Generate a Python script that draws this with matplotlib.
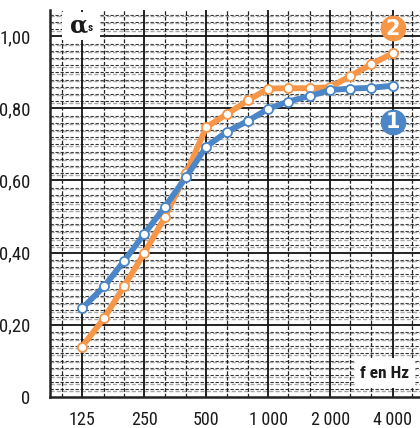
import matplotlib
matplotlib.use("Agg")
import matplotlib.pyplot as plt
from matplotlib import font_manager as fm
from matplotlib.patches import Rectangle
import numpy as np

# ---- data ----
freqs = [125, 160, 200, 250, 315, 400, 500, 630, 800, 1000, 1250, 1600, 2000, 2500, 3150, 4000]
series1 = [0.245, 0.306, 0.377, 0.451, 0.527, 0.610, 0.694, 0.735, 0.766, 0.799, 0.819, 0.835, 0.851, 0.855, 0.857, 0.863]
series2 = [0.139, 0.218, 0.307, 0.398, 0.498, 0.620, 0.748, 0.784, 0.823, 0.855, 0.856, 0.856, 0.859, 0.890, 0.922, 0.953]
octave_ticks = [125, 250, 500, 1000, 2000, 4000]
octave_labels = ["125", "250", "500", "1\u2009000", "2\u2009000", "4\u2009000"]
third_lines = [100, 160, 200, 315, 400, 630, 800, 1250, 1600, 2500, 3150, 5000]
y_ticks = [0, 0.2, 0.4, 0.6, 0.8, 1.0]
y_labels = ["0", "0,20", "0,40", "0,60", "0,80", "1,00"]

blue = "#4a86c8"
orange = "#f79646"

names = {f.name for f in fm.fontManager.ttflist}
narrow = None
for cand in ["Liberation Sans Narrow", "Roboto Condensed", "DejaVu Sans Condensed"]:
    if cand in names:
        narrow = cand
        break
fam = [narrow, "DejaVu Sans"] if narrow else ["DejaVu Sans"]

fig = plt.figure(figsize=(4.2, 4.28), dpi=100)
ax = fig.add_axes([50/420, 1 - 396.7/428, 370/420, (396.7 - 10)/428])
ax.set_xscale("log", base=2)
ax.set_xlim(87.4, 5437)
ax.set_ylim(0, 1.073)

# grid
for y in np.arange(0.02, 1.08, 0.02):
    if abs(round(y / 0.2) * 0.2 - y) < 1e-6:
        continue
    ax.axhline(y, color="#333333", lw=0.8, ls=(0, (3, 1.5)), zorder=1)
    ax.axhline(y - 0.004, color="#a8a8a8", lw=1.0, ls=(0, (3, 1.5)), zorder=1)
for y in [0.2, 0.4, 0.6, 0.8, 1.0]:
    ax.axhline(y, color="#111111", lw=1.3, zorder=1)
for f in third_lines:
    ax.axvline(f, color="#222222", lw=0.9, ls=(0, (3, 1.5)), zorder=1)
for f in octave_ticks:
    ax.axvline(f, color="#111111", lw=1.3, zorder=1)

ax.plot(freqs, series1, color=blue, lw=4.2, marker="o", ms=6.5, mfc="white",
        mec=blue, mew=1.3, zorder=4, solid_joinstyle="round")
ax.plot(freqs, series2, color=orange, lw=4.2, marker="o", ms=6.5, mfc="white",
        mec=orange, mew=1.3, zorder=3, solid_joinstyle="round")

# badges
for (yy, col, lab) in [(1.022, orange, "2"), (0.763, blue, "1")]:
    ax.plot([4000], [yy], marker="o", ms=17.5, color=col, mec=col, zorder=6, clip_on=False)
    ax.text(4000, yy - 0.002, lab, color="white", fontsize=15, fontweight="bold",
            ha="center", va="center", zorder=7, family=["DejaVu Sans"])

# label boxes
ax.add_patch(Rectangle(((62 - 50) / 370, (396.7 - 40) / 386.7), 38 / 370, 28 / 386.7,
                       transform=ax.transAxes, facecolor="white", edgecolor="none", zorder=5))
ax.text((79 - 50) / 370, (396.7 - 25) / 386.7, "\u03b1", transform=ax.transAxes,
        fontsize=17, fontweight="bold", ha="center", va="center", zorder=6, color="#1a1a1a",
        family=["DejaVu Serif"])
ax.text((90 - 50) / 370, (396.7 - 28) / 386.7, "s", transform=ax.transAxes,
        fontsize=8, fontweight="bold", ha="center", va="center", zorder=6, color="#1a1a1a", family=fam)

ax.add_patch(Rectangle(((355 - 50) / 370, (396.7 - 388) / 386.7), 60 / 370, 30 / 386.7,
                       transform=ax.transAxes, facecolor="white", edgecolor="none", zorder=5))
ax.text((385 - 50) / 370, (396.7 - 373) / 386.7, "f en Hz", transform=ax.transAxes,
        fontsize=12.5, fontweight="bold", ha="center", va="center", zorder=6,
        color="#1a1a1a", family=fam)

# axes styling
for s in ["top", "right"]:
    ax.spines[s].set_visible(False)
for s in ["left", "bottom"]:
    ax.spines[s].set_linewidth(1.8)
    ax.spines[s].set_color("#222222")
    ax.spines[s].set_zorder(8)

ax.set_xticks(octave_ticks)
ax.set_xticklabels(octave_labels, family=fam, fontsize=13, color="#1a1a1a")
ax.xaxis.set_minor_locator(matplotlib.ticker.NullLocator())
ax.set_yticks(y_ticks)
ax.set_yticklabels(y_labels, family=fam, fontsize=13.5, color="#1a1a1a")
ax.tick_params(axis="both", length=0)
ax.tick_params(axis="x", pad=10)
ax.tick_params(axis="y", pad=14)

fig.savefig("out.png", dpi=100)
